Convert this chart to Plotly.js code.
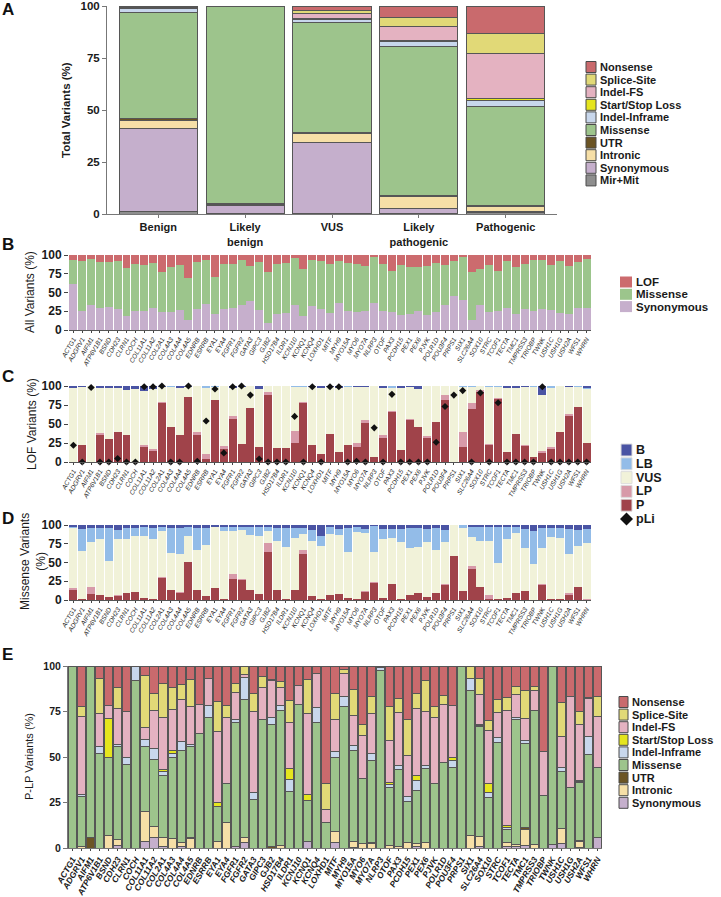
<!DOCTYPE html>
<html><head><meta charset="utf-8">
<script src="https://cdn.plot.ly/plotly-3.0.1.min.js"></script>
<style>html,body{margin:0;padding:0;background:#fff}#chart{width:721px;height:897px}</style>
</head><body><div id="chart"></div>
<script>
// ---------- Panel A ----------
const classes = ['Benign','Likely<br>benign','VUS','Likely<br>pathogenic','Pathogenic'];
const aMirMit     = [1, 0.3, 0.2, 0.3, 0.5];
const aSynonymous = [40, 4, 34, 2.5, 0.8];
const aIntronic   = [4, 0.2, 4.3, 5.7, 2.5];
const aUTR        = [0.7, 0.4, 0.5, 0.5, 0.2];
const aMissense   = [51.3, 95.1, 53.3, 71.3, 47.5];
const aInframe    = [2, 0, 1.3, 2.7, 3];
const aStartStop  = [0.2, 0, 0.4, 0.5, 0.8];
const aIndelFS    = [0.3, 0, 2.5, 6.8, 22];
const aSplice     = [0.2, 0, 1.2, 4.2, 9.7];
const aNonsense   = [0.3, 0, 2.3, 5.5, 13];

// ---------- Genes ----------
const genes = ['ACTG1','ADGRV1','AIFM1','ATP6V1B1','BSND','CDH23','CLRN1','COCH','COL11A1','COL11A2',
 'COL2A1','COL4A3','COL4A4','COL4A5','EDNRB','ESRRB','EYA1','EYA4','FGFR1','FGFR2',
 'GATA3','GIPC3','GJB2','HSD17B4','ILDR1','KCNJ10','KCNQ1','KCNQ4','LOXHD1','MITF',
 'MYH9','MYO15A','MYO6','MYO7A','NLRP3','OTOF','PAX3','PCDH15','PEX1','PEX6',
 'PJVK','POLR1D','POU3F4','PRPS1','SIX1','SLC26A4','SOX10','STRC','TCOF1','TECTA',
 'TMC1','TMPRSS3','TRIOBP','TWNK','USH1C','USH1G','USH2A','WFS1','WHRN'];

// ---------- Panel B ----------
const bSynonymous = [61,25,33,29,31,28,19,26,26,30, 24,24,27,13,28,35,22,28,29,34, 39,27,10,21,23,34,19,32,28,23, 36,26,24,25,36,25,24,20,21,26, 20,24,33,46,40,13,33,24,25,29, 21,28,26,28,27,23,22,29,29];
const bMissense   = [33,67,62,62,60,64,64,62,61,59, 53,60,60,57,63,59,49,60,59,60, 46,64,68,67,66,62,63,62,64,65, 56,64,64,60,61,63,55,67,63,58, 65,65,54,46,57,64,49,63,54,63, 63,60,68,66,60,69,64,62,66];
const bLOF        = [6,8,5,9,9,8,17,12,13,11, 23,16,13,30,9,6,29,12,12,6, 15,9,22,12,11,4,18,6,8,12, 8,10,12,15,3,12,21,13,16,16, 15,11,13,8,3,23,18,13,21,8, 16,12,6,6,13,8,14,9,5];

// ---------- Panel C (LOF) ----------
const cP   = [0,22,0,36,30,39,36,0,20,15, 77,46,35,86,35,4,82,17,57,24, 71,20,88,19,19,25,77,22,11,37, 13,22,20,51,7,31,66,16,55,46, 31,53,82,0,20,70,92,22,83,13, 37,21,7,12,17,40,61,72,25];
const cLP  = [0,0,0,2,0,1,0,0,2,2, 2,0,0,0,4,7,0,4,3,0, 0,0,3.5,0,0,16,2,0,0,0, 0,0,5,4,0,4,1.5,0,2,0, 3,0,6,0,20,7,3,2,1,0, 0,1.5,0,3,2.5,0,2,0,0.5];
const cVUS = [98,77,100,60,68,58,59,95.5,71,78.5, 20,53,63,12.5,61,86,17,79,38,75, 29,75.5,8.5,81,81,58,19.5,77,86,62, 85,77,73.5,43.5,93,63,30.5,81,41.5,50.5, 66,47,12,100,59,22,5,75,15,85, 61,76,92,73,77.5,60,35.5,26.5,71];
const cLB  = [0,0,0,0,0,0,0,0,1,0, 0,1,0,0,0,3,1,0,0,0, 0,0,0,0,0,1,1.5,0,0,0, 0,1,0,0,0,0,2,0,0,0, 0,0,0,0,1,1,0,1,1,0, 0,0,1,0,3,0,0,1.5,1];
const cB   = [2,1,0,2,2,2,5,4.5,6,4.5, 1,0,2,1.5,0,0,0,0,2,1, 0,4.5,0,0,0,0,0,1,3,1, 2,0,1.5,1.5,0,2,0,3,1.5,3.5, 0,0,0,0,0,0,0,0,0,2, 2,1.5,0,12,0,0,1.5,0,2.5];
const pLi  = [0.22,0,0.98,0,0,0.045,0,0,0.99,0.99, 1,0,0,1,0.01,0.54,0.96,0.12,0.99,1, 0.88,0.04,0,0,0,0.6,0,0.99,0,0.99, 0.99,0,0.01,0,0.45,0,0.89,0,0,0, 0,0.26,0.73,0.88,0.94,0,0.91,0,0.78,0, 0,0,0,0.99,0,0,0,0,0];

// ---------- Panel D (Missense) ----------
const dP   = [14,1,8,7,4,6,9,11,3,2, 29,14,10,51,13,5,16,1,28,27, 13,8,64,13,1,13,62,6,1,7, 8,3,2,11,23,3,21,1,7,9, 4,9,20,59,12,41,17,2,2,3, 9,12,0,20,2,2,7,17,0];
const dLP  = [2,1,9,0,0,1,1,0,0,0, 2,0,1,0,1,1,0,0,7,1, 0,0,12,0,0,0,5,0,1,0, 0,0,0,1,1,0,0,0,0,0, 0,0,1,0,0,4,0,5,0,0, 1,0,0,1,0,0,3,1,1];
const dVUS = [80,63,61,75,48,75,72,75,83,80, 61,49,50,34,53,67,81,91,57,65, 74,77,16,66,70,70,21,73,70,81, 79,61,89,77,40,78,62,77,63,62, 74,58,57,41,84,39,62,72,47,79, 79,57,48,49,82,81,51,54,75];
const dLB  = [2,30,18,14,44,11,14,10,11,14, 5,33,35,12,29,23,0,6,5,5, 10,12,5,17,25,13,8,15,14,10, 8,32,6,6,35,14,12,17,26,25, 17,29,16,0,4,13,18,18,48,15, 8,26,44,26,12,13,34,22,19];
const dB   = [2,5,4,4,4,7,4,4,3,4, 3,4,4,3,4,4,3,2,3,2, 3,3,3,4,4,4,4,6,14,2, 5,4,3,5,1,5,5,5,4,4, 5,4,6,0,0,3,3,3,3,3, 3,5,8,4,4,4,5,6,5];

// ---------- Panel E (P-LP) ----------
const eSynonymous = [0,0,0,0,0,1.5,0,0,3.5,6, 1,0,1,0,0,0,0,0,1,3, 0,0,0,0,0,0,3.5,0,0,3, 0,0.5,0,0,0,0,0,0,1,0, 0,0,0,0,0,1,0,0,1,1, 1.5,0,0,2,2.5,0,0.5,0,5.5];
const eIntronic   = [0,1,0,0,7,3,0,0,16.5,6, 5,5,2,5,0,0,3.5,14,0,2.5, 0,0,0,1.5,0,0,0,0,0,6, 0,3,2.5,2.5,0,1.5,1,3,1.5,3, 0,0,0,0,7,5.5,0,0,2,1, 8.5,2,0,0,8,0,3,0,0];
const eUTR        = [0,0,5.5,0,0,0,0,0,0,0, 0,0,0,0.5,0,0,0,0,0,0, 0,0,1,0,0,0,0,0,0,0, 0,0,0,0.5,0,0,0,0,0,0, 0,0,0,0,0,0,0,0,0,0, 1.5,0,0,0,0,0,0.5,0,0];
const eMissense   = [100,27.5,94.5,52,43,51.5,46,92,35.5,36.5, 34,45,50.5,50,63,71.5,19.5,21.5,68,76, 26.5,70.5,67,74,31,79,22.5,69,14,41, 77.5,50,35.5,45,97.5,31.5,42,22.5,29,40.5, 35.5,47,44.5,100,79.5,60,28,58,7,68.5, 46,73.5,29,98,31.5,33,32,51.5,39];
const eInframe    = [0,1,0,3.5,0,1,4,8,4,6, 2,2,5,1.5,0,7,0,0,1.5,12, 4,0,3.5,3,6.5,0,0,8,0,3, 6,3,0,4,1.5,2,2.5,3,5.5,2, 0,0,3.5,0,6.5,1,2.5,2.5,1.5,1, 1.5,0,0,0,2.5,0,0.5,9.5,0];
const eStartStop  = [0,0,0,0,21,0,0,0,0,0, 1,1.5,0,0,0,0,2,0,0,0, 0,0,0,0,6,0,3.5,0,0,0, 0,0,0,0,0,1,0,0,3,0, 0,0,2,0,0,0.5,5,0,1,0, 0,0,0,0,0,0,0.5,0,0];
const eIndelFS    = [0,42.5,0,18.5,7.5,19.5,25,0,6.5,21, 28.5,22.5,23,21,16,14.5,39,36,15,2, 44.5,17.5,20.5,9.5,25.5,10.5,44.5,19,7,17.5, 12.5,16.5,24,22,0,23,29,22.5,36.5,29.5, 36,32,28.5,0,0,16.5,29,14,63,13, 12,11,24,0,16.5,50,31,21,28];
const eSplice     = [0,6,0,19,0,11.5,0,0,29,9.5, 19,12,8.5,14.5,0,0,16.5,7,5,4.5, 10,6,0.5,3.5,12,0,18.5,0,14.5,14.5, 2,14,6,9,0,18.5,7.5,19.5,8.5,17, 6,5,0,0,7,8.5,5.5,7,7,4.5, 15.5,2,0,0,19,0,7,0.5,11];
const eNonsense   = [0,22,0,7,21.5,12,25,0,5,15, 9.5,12,10,7.5,21,7,19.5,21.5,9.5,0, 15,6,7.5,8.5,19,10.5,7.5,4,64.5,15, 2,13,32,17,1,22.5,18,29.5,15,8, 22.5,16,21.5,0,0,7,30,18.5,17.5,11, 13.5,11.5,47,0,20,17,25,17.5,16.5];

// ---------- Styles ----------
const FONT = 'Liberation Sans, Arial, Helvetica, sans-serif';
const W = 721, H = 897;
const xf = p => p / W;
const yf = p => 1 - p / H;
const typeColor = {
  'Nonsense':'#c96a6d','Splice-Site':'#e1d977','Indel-FS':'#e4b2c1','Start/Stop Loss':'#e5e51e',
  'Indel-Inframe':'#c8d7ec','Missense':'#9dc48c','UTR':'#6b5424','Intronic':'#f6dfa7',
  'Synonymous':'#c5afcc','Mir+Mit':'#8e8e8e'
};
const clsColor = {'B':'#4a54a4','LB':'#93bce8','VUS':'#f1f2d9','LP':'#d79aa9','P':'#a0434a'};
const bColor = {'LOF':'#cc6b6e','Missense':'#9cc58c','Synonymous':'#c6afcc'};

const traces = [];
function addStack(x, series, xa, ya, line){
  series.forEach(s => traces.push({
    type:'bar', x:x, y:s[1], name:s[0], xaxis:xa, yaxis:ya,
    marker:{color:s[2], line:line}, showlegend:false, hoverinfo:'skip'
  }));
}
const darkLine = {color:'#565656', width:1};
const noLine = {width:0};

addStack(classes, [
  ['Mir+Mit', aMirMit, typeColor['Mir+Mit']],
  ['Synonymous', aSynonymous, typeColor['Synonymous']],
  ['Intronic', aIntronic, typeColor['Intronic']],
  ['UTR', aUTR, typeColor['UTR']],
  ['Missense', aMissense, typeColor['Missense']],
  ['Indel-Inframe', aInframe, typeColor['Indel-Inframe']],
  ['Start/Stop Loss', aStartStop, typeColor['Start/Stop Loss']],
  ['Indel-FS', aIndelFS, typeColor['Indel-FS']],
  ['Splice-Site', aSplice, typeColor['Splice-Site']],
  ['Nonsense', aNonsense, typeColor['Nonsense']]
], 'x', 'y', darkLine);

addStack(genes, [
  ['Synonymous', bSynonymous, bColor['Synonymous']],
  ['Missense', bMissense, bColor['Missense']],
  ['LOF', bLOF, bColor['LOF']]
], 'x2', 'y2', noLine);

addStack(genes, [
  ['P', cP, clsColor.P], ['LP', cLP, clsColor.LP], ['VUS', cVUS, clsColor.VUS],
  ['LB', cLB, clsColor.LB], ['B', cB, clsColor.B]
], 'x3', 'y3', noLine);
traces.push({type:'scatter', mode:'markers', x:genes, y:pLi.map(v => v*100), xaxis:'x3', yaxis:'y3',
  marker:{symbol:'diamond', size:5.5, color:'#111'}, cliponaxis:false, showlegend:false, hoverinfo:'skip'});

addStack(genes, [
  ['P', dP, clsColor.P], ['LP', dLP, clsColor.LP], ['VUS', dVUS, clsColor.VUS],
  ['LB', dLB, clsColor.LB], ['B', dB, clsColor.B]
], 'x4', 'y4', noLine);

addStack(genes, [
  ['Synonymous', eSynonymous, typeColor['Synonymous']],
  ['Intronic', eIntronic, typeColor['Intronic']],
  ['UTR', eUTR, typeColor['UTR']],
  ['Missense', eMissense, typeColor['Missense']],
  ['Indel-Inframe', eInframe, typeColor['Indel-Inframe']],
  ['Start/Stop Loss', eStartStop, typeColor['Start/Stop Loss']],
  ['Indel-FS', eIndelFS, typeColor['Indel-FS']],
  ['Splice-Site', eSplice, typeColor['Splice-Site']],
  ['Nonsense', eNonsense, typeColor['Nonsense']]
], 'x5', 'y5', darkLine);

// ---------- Axes ----------
const yTicks = [0,25,50,75,100];
function yAxis(dom, anchor, size, line){
  return {domain:[yf(dom[1]), yf(dom[0])], anchor:anchor, range:[0,100], tickvals:yTicks,
    showgrid:false, zeroline:false, ticks:'outside', ticklen:4, tickwidth:1, tickcolor:line ? '#777' : '#444',
    showline:!!line, linecolor:'#777', linewidth:1,
    tickfont:{family:FONT, size:size, weight:'bold', color:'#1a1a1a'}, fixedrange:true};
}
function geneAxis(dom, anchor, font){
  return {domain:[xf(dom[0]), xf(dom[1])], anchor:anchor, type:'category', range:[-0.5, genes.length-0.5],
    tickmode:'array', tickvals:genes, ticktext:genes, tickangle:-60,
    ticks:'outside', ticklen:2, tickcolor:'#444', showline:true, linecolor:'#555', linewidth:1,
    showgrid:false, zeroline:false, tickfont:font, fixedrange:true};
}
const smallGeneFont = {family:FONT, size:6.5, style:'italic', color:'#222'};
const eGeneFont = {family:FONT, size:8.5, style:'italic', weight:'bold', color:'#1a1a1a'};

const layout = {
  width:W, height:H, margin:{l:0,r:0,t:0,b:0}, paper_bgcolor:'#fff', plot_bgcolor:'#fff',
  barmode:'stack', bargap:0.1, showlegend:false, font:{family:FONT, color:'#1a1a1a'},
  xaxis:{domain:[xf(107), xf(557)], anchor:'y', type:'category', range:[-0.59, 4.59],
    showline:true, linecolor:'#777', ticks:'outside', ticklen:3, tickcolor:'#777',
    showgrid:false, zeroline:false, tickfont:{family:FONT, size:11, weight:'bold', color:'#1a1a1a'}, fixedrange:true},
  yaxis:yAxis([6,214], 'x', 11.5, true),
  xaxis2:geneAxis([69,591], 'y2', smallGeneFont),
  yaxis2:yAxis([255,330], 'x2', 12, false),
  xaxis3:geneAxis([69,591], 'y3', smallGeneFont),
  yaxis3:yAxis([386,462], 'x3', 12, false),
  xaxis4:geneAxis([69,591], 'y4', smallGeneFont),
  yaxis4:yAxis([525,600], 'x4', 12, false),
  xaxis5:geneAxis([68,602], 'y5', eGeneFont),
  yaxis5:yAxis([666,848], 'x5', 10.5, true),
  shapes:[], annotations:[]
};
layout.xaxis5.linecolor = '#777';

function ann(text, px, py, opts){
  layout.annotations.push(Object.assign({text:text, x:xf(px), y:yf(py), xref:'paper', yref:'paper',
    showarrow:false, xanchor:'left', yanchor:'middle', borderpad:0,
    font:{family:FONT, size:11, weight:'bold', color:'#1a1a1a'}}, opts||{}));
}
function rect(x0, x1, yc, h, color, lineColor){
  layout.shapes.push({type:'rect', xref:'paper', yref:'paper', x0:xf(x0), x1:xf(x1), y0:yf(yc+h/2), y1:yf(yc-h/2),
    fillcolor:color, line:{color:lineColor||color, width:lineColor?1:0}});
}

// Panel letters
[['A',10],['B',245],['C',376],['D',518],['E',654]].forEach(p => ann(p[0], 1, p[1], {font:{family:FONT, size:17, weight:'bold', color:'#111'}}));

// Y titles
function ytitle(text, px, py, size, weight){
  layout.annotations.push({text:text, x:xf(px), y:yf(py), xref:'paper', yref:'paper', showarrow:false,
    textangle:-90, xanchor:'center', yanchor:'middle', font:{family:FONT, size:size, weight:weight, color:'#1a1a1a'}});
}
ytitle('Total Variants (%)', 66, 110, 11.5, 'bold');
ytitle('All Variants (%)', 30, 292, 12, 'normal');
ytitle('LOF Variants (%)', 32, 424, 12, 'normal');
ytitle('Missense Variants<br>(%)', 33, 562, 12, 'normal');
ytitle('P-LP Variants (%)', 29, 757, 11, 'normal');

// Legend A
const legA = ['Nonsense','Splice-Site','Indel-FS','Start/Stop Loss','Indel-Inframe','Missense','UTR','Intronic','Synonymous','Mir+Mit'];
legA.forEach((n,i) => { const yc = 67 + 12.6*i; rect(586, 596, yc, 11, typeColor[n], '#4a4a4a'); ann(n, 598.5, yc); });
// Legend B
['LOF','Missense','Synonymous'].forEach((n,i) => { const yc = 282 + 12.3*i; rect(620, 632, yc, 11, bColor[n]); ann(n, 634.5, yc, {font:{family:FONT, size:11.5, weight:'bold', color:'#1a1a1a'}}); });
// Legend C/D
['B','LB','VUS','LP','P'].forEach((n,i) => { const yc = 450 + 13.8*i; rect(621, 632, yc, 12, clsColor[n], '#dddddd'); ann(n, 635, yc, {font:{family:FONT, size:12.5, weight:'bold', color:'#1a1a1a'}}); });
(function(){ const cx = 626.5, cy = 519, r = 6.5;
  layout.shapes.push({type:'path', xref:'paper', yref:'paper', fillcolor:'#111', line:{width:0},
    path:`M ${xf(cx)},${yf(cy-r)} L ${xf(cx+r)},${yf(cy)} L ${xf(cx)},${yf(cy+r)} L ${xf(cx-r)},${yf(cy)} Z`});
  ann('pLi', 635, 519, {font:{family:FONT, size:12.5, weight:'bold', color:'#1a1a1a'}});
})();
// Legend E
const legE = ['Nonsense','Splice-Site','Indel-FS','Start/Stop Loss','Indel-Inframe','Missense','UTR','Intronic','Synonymous'];
legE.forEach((n,i) => { const yc = 702 + 12.6*i; rect(619, 628, yc, 11, typeColor[n], '#4a4a4a'); ann(n, 631, yc); });

Plotly.newPlot('chart', traces, layout, {displayModeBar:false, staticPlot:true});
</script>
</body></html>
